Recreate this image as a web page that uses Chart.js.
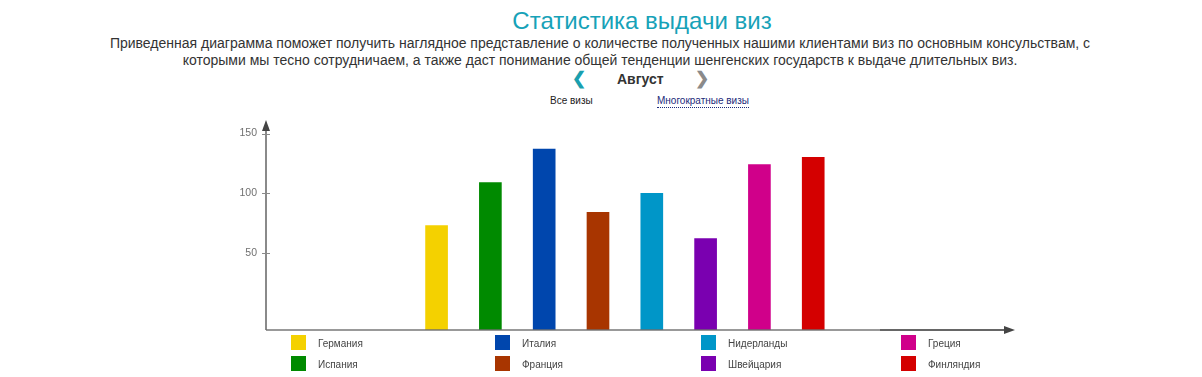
<!DOCTYPE html>
<html lang="ru">
<head>
<meta charset="utf-8">
<title>Статистика выдачи виз</title>
<script src="https://cdn.jsdelivr.net/npm/chart.js@4/dist/chart.umd.min.js"></script>
<style>
  html, body { margin: 0; padding: 0; background: #fff; }
  body { width: 1202px; height: 377px; position: relative; overflow: hidden;
         font-family: "Liberation Sans", Arial, sans-serif; color: #333; }
  .title { position: absolute; left: 0; width: 1284px; top: 6px; text-align: center;
           font-size: 24px; color: #17a2b8; line-height: 30px; }
  .lead { position: absolute; left: 0; width: 1200px; top: 35px; text-align: center;
          font-size: 14px; line-height: 17px; color: #333; }
  .nav { position: absolute; top: 70px; font-size: 14px; line-height: 18px; }
  .chev { position: absolute; top: 70px; font-size: 17px; font-weight: bold; line-height: 18px; }
  .sub { position: absolute; top: 94px; font-size: 10px; line-height: 13px; color: #222; }
  .sub.link { color: #1c2a7a; border-bottom: 1px dotted #1c2a7a; }
  #wrap { position: absolute; left: 0; top: 0; width: 1202px; height: 377px; }
  .lg { position: absolute; font-size: 10px; color: #444; line-height: 15px; }
  .lg i { position: absolute; left: 0; top: 0; width: 15px; height: 15px; }
  .lg span { position: absolute; left: 27px; top: 1px; white-space: nowrap; }
</style>
</head>
<body>
<div class="title">Статистика выдачи виз</div>
<div class="lead">Приведенная диаграмма поможет получить наглядное представление о количестве полученных нашими клиентами виз по основным консульствам, с<br>которыми мы тесно сотрудничаем, а также даст понимание общей тенденции шенгенских государств к выдаче длительных виз.</div>
<div class="chev" style="left:572px;color:#1a9fae;">&#10094;</div>
<div class="nav" style="left:617px;font-weight:bold;">Август</div>
<div class="chev" style="left:695px;color:#8a8a8a;">&#10095;</div>
<div class="sub" style="left:550px;">Все визы</div>
<div class="sub link" style="left:657px;">Многократные визы</div>
<div id="wrap"><canvas id="visaChart"></canvas></div>
<div id="legend"></div>
<script>
  // Countries, in the order the bars are drawn
  const countries = ["Германия", "Испания", "Италия", "Франция", "Нидерланды", "Швейцария", "Греция", "Финляндия"];
  const visas = [73, 109, 137, 84, 100, 62, 124, 130];
  const barColors = ["#f4d100", "#008a00", "#0046ad", "#a83500", "#0096c8", "#7a00b0", "#d0008a", "#d40000"];
  const yTicks = [50, 100, 150];
  const yMin = -14.4;
  const yMax = 161.3;

  const axisPlugin = {
    id: "axisArrows",
    afterDatasetsDraw(chart) {
      const c = chart.ctx;
      const area = chart.chartArea;
      const y = chart.scales.y;
      const x0 = area.left, yb = y.getPixelForValue(yMin);
      c.save();
      // y axis
      c.strokeStyle = "#8a8a8a";
      c.lineWidth = 2;
      c.beginPath();
      c.moveTo(x0, yb);
      c.lineTo(x0, area.top + 4);
      c.stroke();
      // x axis
      c.strokeStyle = "rgba(110,110,110,0.7)";
      c.beginPath();
      c.moveTo(x0, yb);
      c.lineTo(880, yb);
      c.stroke();
      c.strokeStyle = "#666";
      c.beginPath();
      c.moveTo(880, yb);
      c.lineTo(area.right - 5, yb);
      c.stroke();
      // ticks
      c.strokeStyle = "#8a8a8a";
      c.lineWidth = 1;
      yTicks.forEach(v => {
        const py = Math.round(y.getPixelForValue(v)) + 0.5;
        c.beginPath();
        c.moveTo(x0 - 4, py);
        c.lineTo(x0 + 4, py);
        c.stroke();
      });
      // arrow heads
      c.fillStyle = "#444";
      c.beginPath();
      c.moveTo(x0, area.top);
      c.lineTo(x0 - 4, area.top + 11);
      c.lineTo(x0 + 4, area.top + 11);
      c.closePath();
      c.fill();
      c.beginPath();
      c.moveTo(area.right, yb);
      c.lineTo(area.right - 11, yb - 4);
      c.lineTo(area.right - 11, yb + 4);
      c.closePath();
      c.fill();
      c.restore();
    }
  };

  const ctx = document.getElementById("visaChart").getContext("2d");
  new Chart(ctx, {
    type: "bar",
    data: {
      datasets: [{
        label: "Визы",
        data: countries.map((name, i) => ({ x: i, y: visas[i] })),
        backgroundColor: barColors,
        borderWidth: 0,
        barThickness: 22,
        base: yMin
      }]
    },
    options: {
      responsive: true,
      maintainAspectRatio: false,
      animation: false,
      layout: { padding: { left: 0, top: 120, right: 187, bottom: 47 } },
      plugins: { legend: { display: false }, tooltip: { enabled: false } },
      scales: {
        x: {
          type: "linear",
          offset: false,
          min: -3.17,
          max: 10.75,
          grid: { display: false },
          border: { display: false },
          ticks: { display: false },
          afterFit(scale) { scale.height = 0; }
        },
        y: {
          min: yMin,
          max: yMax,
          afterFit(scale) { scale.width = 266; },
          afterBuildTicks(scale) { scale.ticks = yTicks.map(v => ({ value: v })); },
          grid: { display: false },
          border: { display: false },
          ticks: {
            color: "#707070",
            padding: 1,
            font: { family: "'Liberation Sans', Arial, sans-serif", size: 10.5 }
          }
        }
      }
    },
    plugins: [axisPlugin]
  });

  // legend: 4 columns, 2 rows, filled column by column
  const legendCols = [291, 495, 701, 901];
  const legendRows = [335, 356];
  const legend = document.getElementById("legend");
  countries.forEach((name, i) => {
    const el = document.createElement("div");
    el.className = "lg";
    el.style.left = legendCols[Math.floor(i / 2)] + "px";
    el.style.top = legendRows[i % 2] + "px";
    el.innerHTML = `<i style="background:${barColors[i]}"></i><span>${name}</span>`;
    legend.appendChild(el);
  });
</script>
</body>
</html>
